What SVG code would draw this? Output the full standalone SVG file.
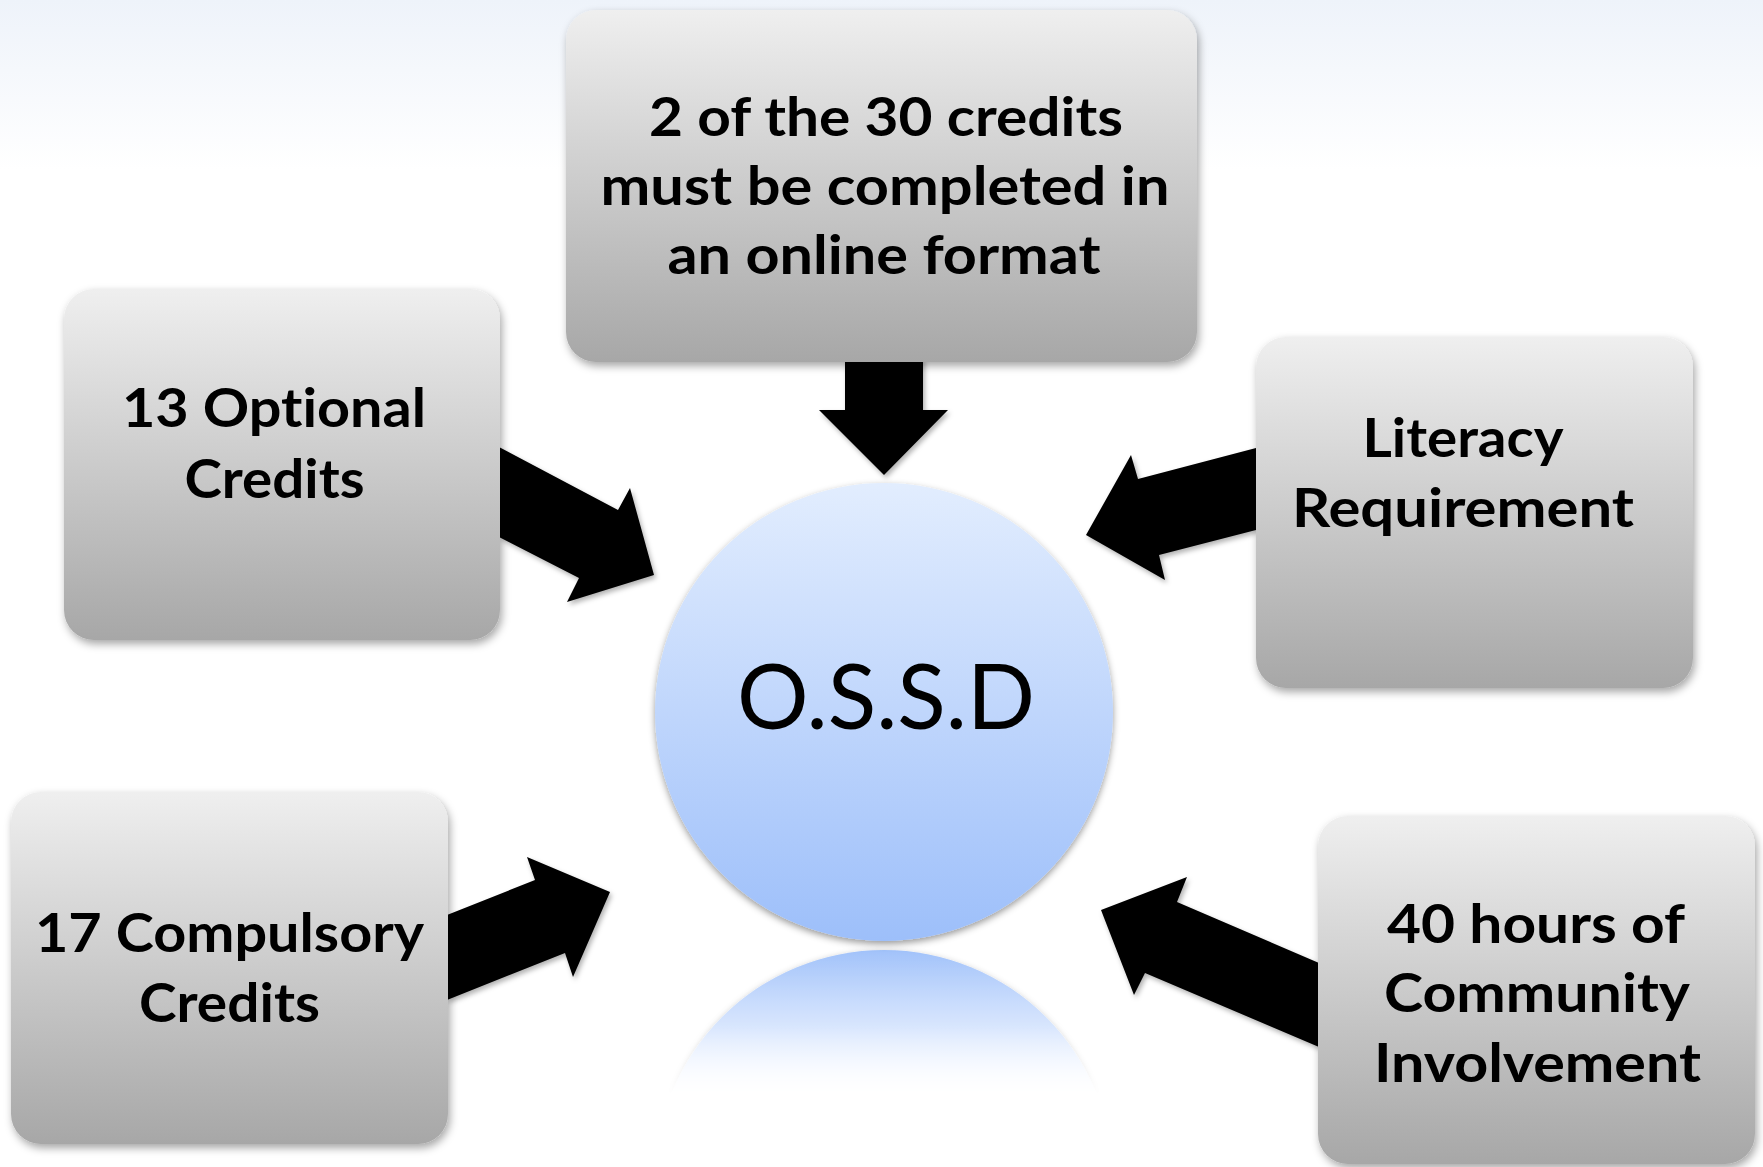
<svg xmlns="http://www.w3.org/2000/svg" width="1763" height="1167" viewBox="0 0 1763 1167">
  <defs>
    <linearGradient id="bg" x1="0" y1="0" x2="0" y2="170" gradientUnits="userSpaceOnUse">
      <stop offset="0" stop-color="#eef3fa"/>
      <stop offset="1" stop-color="#ffffff"/>
    </linearGradient>
    <linearGradient id="boxFill" x1="0" y1="0" x2="0" y2="1">
      <stop offset="0" stop-color="#efefef"/>
      <stop offset="1" stop-color="#a7a7a7"/>
    </linearGradient>
    <linearGradient id="circFill" x1="0" y1="0" x2="0" y2="1">
      <stop offset="0" stop-color="#e2edfe"/>
      <stop offset="1" stop-color="#9dbffa"/>
    </linearGradient>
    <linearGradient id="reflFill" x1="0" y1="950" x2="0" y2="1090" gradientUnits="userSpaceOnUse">
      <stop offset="0" stop-color="#9ec0fa"/>
      <stop offset="0.6" stop-color="#cfe0fd"/>
      <stop offset="1" stop-color="#f4f8ff"/>
    </linearGradient>
    <linearGradient id="reflMaskGrad" x1="0" y1="940" x2="0" y2="1095" gradientUnits="userSpaceOnUse">
      <stop offset="0" stop-color="#ffffff"/>
      <stop offset="0.55" stop-color="#c0c0c0"/>
      <stop offset="1" stop-color="#000000"/>
    </linearGradient>
    <mask id="reflMask" maskUnits="userSpaceOnUse" x="0" y="0" width="1763" height="1167">
      <rect x="600" y="935" width="570" height="165" fill="url(#reflMaskGrad)"/>
    </mask>
    <filter id="shadow" x="-10%" y="-10%" width="125%" height="125%">
      <feDropShadow dx="2" dy="4" stdDeviation="4" flood-color="#000" flood-opacity="0.35"/>
    </filter>
    <filter id="arrowShadow" x="-10%" y="-10%" width="125%" height="125%">
      <feDropShadow dx="2" dy="3" stdDeviation="2.5" flood-color="#000" flood-opacity="0.3"/>
    </filter>
    <filter id="circShadow" x="-10%" y="-10%" width="120%" height="120%">
      <feDropShadow dx="0" dy="3" stdDeviation="3.5" flood-color="#000" flood-opacity="0.4"/>
    </filter>
  </defs>
  <style>
    .box { fill: url(#boxFill); filter: url(#shadow); }
    .lbl { font-family: Lato, "Liberation Sans", sans-serif; font-weight: bold; font-size: 54px; fill: #000; text-anchor: middle; font-variant-ligatures: none; }
    .center { font-family: Lato, "Liberation Sans", sans-serif; font-weight: normal; font-size: 91px; fill: #000; text-anchor: middle; font-variant-ligatures: none; }
    .arrow { fill: #000; filter: url(#arrowShadow); }
  </style>

  <rect x="0" y="0" width="1763" height="1167" fill="url(#bg)"/>

  <g id="connectors">
    <polygon class="arrow" points="845,358 923,358 923,410 948,410 884,475 819,410 845,410"/>
    <polygon class="arrow" points="499,447 618,510 630,488 654,575 567,602 579,578 499,537"/>
    <polygon class="arrow" points="1256,448 1138,479 1131,455 1086,535 1165,580 1159,555 1256,530"/>
    <polygon class="arrow" points="447,915 535,880 527,857 610,892 573,977 565,953 447,1000"/>
    <polygon class="arrow" points="1319,963 1177,902 1187,877 1101,910 1134,995 1145,973 1319,1047"/>
  </g>

  <g id="node-ossd">
    <g mask="url(#reflMask)">
      <circle cx="884" cy="1179" r="229" fill="url(#reflFill)" filter="url(#circShadow)"/>
    </g>
    <circle cx="884" cy="712" r="229" fill="url(#circFill)" filter="url(#circShadow)"/>
    <text class="center" x="886" y="729" textLength="298" lengthAdjust="spacingAndGlyphs">O.S.S.D</text>
  </g>

  <g id="node-online">
    <rect class="box" x="566" y="10" width="631" height="352" rx="30" ry="30"/>
    <text class="lbl" x="886" y="136" textLength="474" lengthAdjust="spacingAndGlyphs">2 of the 30 credits</text>
    <text class="lbl" x="885" y="205" textLength="569" lengthAdjust="spacingAndGlyphs">must be completed in</text>
    <text class="lbl" x="884" y="274" textLength="433" lengthAdjust="spacingAndGlyphs">an online format</text>
  </g>

  <g id="node-optional">
    <rect class="box" x="64" y="289" width="436" height="351" rx="30" ry="30"/>
    <text class="lbl" x="274" y="427" textLength="304" lengthAdjust="spacingAndGlyphs">13 Optional</text>
    <text class="lbl" x="274.5" y="498" textLength="180" lengthAdjust="spacingAndGlyphs">Credits</text>
  </g>

  <g id="node-literacy">
    <rect class="box" x="1256" y="337" width="437" height="351" rx="30" ry="30"/>
    <text class="lbl" x="1463" y="457" textLength="201" lengthAdjust="spacingAndGlyphs">Literacy</text>
    <text class="lbl" x="1463" y="527" textLength="342" lengthAdjust="spacingAndGlyphs">Requirement</text>
  </g>

  <g id="node-compulsory">
    <rect class="box" x="11" y="792" width="437" height="352" rx="30" ry="30"/>
    <text class="lbl" x="229.5" y="952" textLength="389" lengthAdjust="spacingAndGlyphs">17 Compulsory</text>
    <text class="lbl" x="229.5" y="1022" textLength="181" lengthAdjust="spacingAndGlyphs">Credits</text>
  </g>

  <g id="node-community">
    <rect class="box" x="1318" y="816" width="437" height="348" rx="30" ry="30"/>
    <text class="lbl" x="1536" y="943" textLength="298" lengthAdjust="spacingAndGlyphs">40 hours of</text>
    <text class="lbl" x="1537" y="1012" textLength="306" lengthAdjust="spacingAndGlyphs">Community</text>
    <text class="lbl" x="1537.5" y="1082" textLength="327" lengthAdjust="spacingAndGlyphs">Involvement</text>
  </g>
</svg>
